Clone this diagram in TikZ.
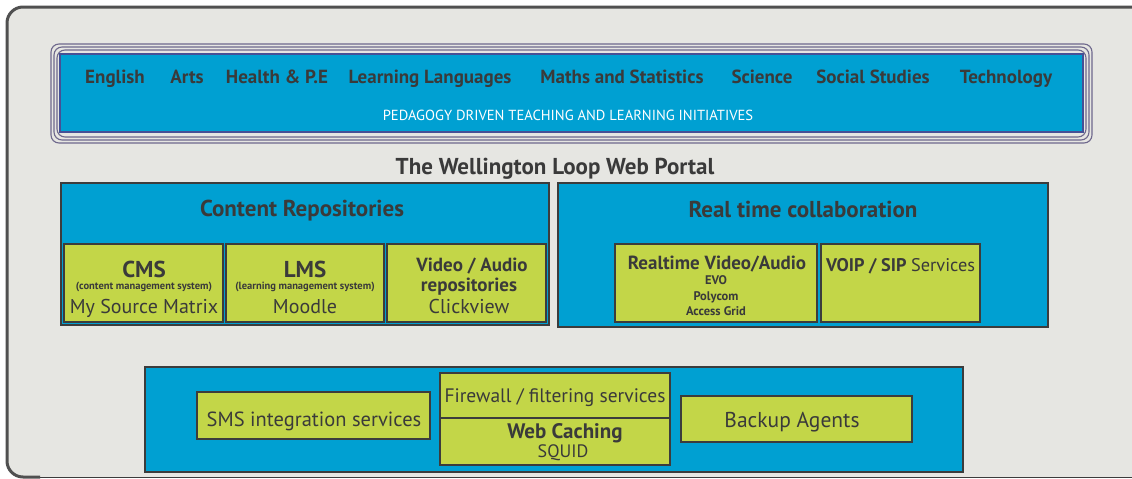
\documentclass[tikz,border=0pt]{standalone}
\usepackage{fontspec}
\setmainfont{PT Sans}
\definecolor{loopblue}{RGB}{0,160,210}
\definecolor{loopgreen}{RGB}{195,214,72}
\definecolor{loopgrey}{RGB}{230,230,226}
\definecolor{ink}{RGB}{58,58,58}
\definecolor{edge}{RGB}{60,60,60}
\definecolor{ribbon}{RGB}{110,104,140}
\definecolor{ribbonin}{RGB}{70,80,150}
\newcommand{\fs}[1]{\fontsize{#1}{#1}\selectfont}
\tikzset{
  panel/.style={draw=edge, fill=loopblue, line width=1.2pt},
  item/.style={draw=edge, fill=loopgreen, line width=1.2pt},
  txt/.style={text=ink, inner sep=0pt, anchor=base},
  subject/.style={txt, font=\bfseries\fs{19}},
  heading/.style={txt, font=\bfseries\fs{23}},
  bigtxt/.style={txt, font=\fs{20}},
  smalltxt/.style={txt, font=\bfseries\fs{12.5}},
  tinytxt/.style={txt, font=\bfseries\fs{10.5}}
}
\begin{document}
\begin{tikzpicture}[x=1pt, y=-1pt]
   \useasboundingbox (0,0) rectangle (1132,479);
   %fondo
   \fill[white] (0,0) rectangle (1132,479);
   \fill[loopgrey, rounded corners=16pt] (7,7) rectangle (1160,477);
   \draw[edge, line width=1pt] (30,477) -- (1132,477);
   \draw[edge!90, line width=3pt, rounded corners=16pt] (1160,7) -- (7,7) -- (7,477) -- (40,477);
   %cinta de materias
   \foreach \d in {0,3,6}
      \draw[ribbon, line width=1.1pt, rounded corners=8pt] (51+\d,44+\d) rectangle (1092-\d,143-\d);
   \draw[ribbonin, fill=loopblue, line width=1.5pt] (60,54) rectangle (1083,132);
   \node[subject] (english) at (115,83) {English};
   \node[subject] (arts) at (187,83) {Arts};
   \node[subject] (health) at (277,83) {Health \& P.E};
   \node[subject] (languages) at (430,83) {Learning Languages};
   \node[subject] (maths) at (622,83) {Maths and Statistics};
   \node[subject] (science) at (762,83) {Science};
   \node[subject] (social) at (873,83) {Social Studies};
   \node[subject] (technology) at (1006,83) {Technology};
   \node[txt, text=white, font=\fs{14.6}] (pedagogy) at (568,120) {PEDAGOGY DRIVEN TEACHING AND LEARNING INITIATIVES};
   %portal
   \node[heading] (portal) at (555,174) {The Wellington Loop Web Portal};
   %repositorios
   \draw[panel] (61,183) rectangle (549,325);
   \node[heading] (repos) at (302,216) {Content Repositories};
   \draw[item] (64,244) rectangle (223,322);
   \draw[item] (226,244) rectangle (384,322);
   \draw[item] (387,244) rectangle (546,322);
   \node[heading] (cms) at (144,277) {CMS};
   \node[tinytxt] (cmsfull) at (144,289) {(content management system)};
   \node[bigtxt] (cmstool) at (144,313) {My Source Matrix};
   \node[heading] (lms) at (305,277) {LMS};
   \node[tinytxt] (lmsfull) at (305,289) {(learning management system)};
   \node[bigtxt] (lmstool) at (305,313) {Moodle};
   \node[txt, font=\bfseries\fs{19}] (video) at (472,271) {Video / Audio};
   \node[txt, font=\bfseries\fs{19}] (videorepo) at (469,291) {repositories};
   \node[bigtxt] (videotool) at (469,313) {Clickview};
   %colaboracion
   \draw[panel] (558,183) rectangle (1048,327);
   \node[heading] (collab) at (803,217) {Real time collaboration};
   \draw[item] (615,244) rectangle (817,322);
   \draw[item] (821,244) rectangle (980,322);
   \node[subject] (realtime) at (717,269) {Realtime Video/Audio};
   \node[smalltxt] (evo) at (716,284) {EVO};
   \node[smalltxt] (polycom) at (716,300) {Polycom};
   \node[smalltxt] (accessgrid) at (716,315) {Access Grid};
   \node[subject, anchor=base west, font=\bfseries\fs{18.3}] (voip) at (826,271) {VOIP / SIP \mdseries Services};
   %servicios de red
   \draw[panel] (145,367) rectangle (963,472);
   \draw[item] (197,392) rectangle (430,439);
   \draw[item] (440,373) rectangle (670,418);
   \draw[item] (440,418) rectangle (670,465);
   \draw[item] (681,396) rectangle (912,442);
   \node[bigtxt, font=\fs{20.5}] (sms) at (314,426) {SMS integration services};
   \node[bigtxt, font=\fs{19.5}] (firewall) at (555,402) {Firewall / filtering services};
   \node[txt, font=\bfseries\fs{21}] (caching) at (565,438) {Web Caching};
   \node[txt, font=\fs{18}] (squid) at (563,457) {SQUID};
   \node[bigtxt, font=\fs{21.5}] (backup) at (792,427) {Backup Agents};
\end{tikzpicture}
\end{document}
